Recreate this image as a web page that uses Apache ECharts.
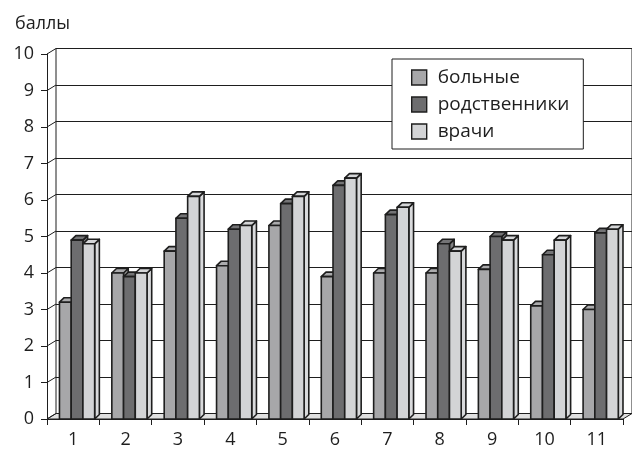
<!DOCTYPE html>
<html>
<head>
<meta charset="utf-8">
<script src="https://cdn.jsdelivr.net/npm/echarts@6/dist/echarts.min.js"></script>
<style>
  html, body { margin: 0; padding: 0; background: #fff; }
  #chart { width: 632px; height: 450px; }
</style>
</head>
<body>
<div id="chart"></div>
<script>
// Scores by question number
const categories = ['1', '2', '3', '4', '5', '6', '7', '8', '9', '10', '11'];
const patients   = [3.2, 4.0, 4.6, 4.2, 5.3, 3.9, 4.0, 4.0, 4.1, 3.1, 3.0];
const relatives  = [4.9, 3.9, 5.5, 5.2, 5.9, 6.4, 5.6, 4.8, 5.0, 4.5, 5.1];
const doctors    = [4.8, 4.0, 6.1, 5.3, 6.1, 6.6, 5.8, 4.6, 4.9, 4.9, 5.2];
const yTicks     = [0, 1, 2, 3, 4, 5, 6, 7, 8, 9, 10];

const seriesNames  = ['больные', 'родственники', 'врачи'];
const seriesColors = ['#a7a7a9', '#6d6d6f', '#d3d4d6'];
const FONT = '"Open Sans", "DejaVu Sans", sans-serif';
const INK = '#1e1e1e';

// depth of the wall/floor and of each bar, in pixels
const WALL_DX = 9, WALL_DY = -5.5;
const BAR_DX = 4.7, BAR_DY = -4.5;

// floor slab and the left wall's diagonal ties
function renderFrame(params, api) {
  const cs = params.coordSys;
  const x0 = cs.x, x1 = cs.x + cs.width, yb = cs.y + cs.height;
  const children = [{
    type: 'polygon',
    shape: { points: [[x0, yb], [x1, yb], [x1 + WALL_DX, yb + WALL_DY], [x0 + WALL_DX, yb + WALL_DY]] },
    style: { fill: '#e0e0e0', stroke: INK, lineWidth: 1 }
  }];
  yTicks.forEach(function (v) {
    const y = api.coord([0, v])[1];
    children.push({
      type: 'line',
      shape: { x1: x0, y1: y, x2: x0 + WALL_DX, y2: y + WALL_DY },
      style: { stroke: INK, lineWidth: 1 }
    });
  });
  return { type: 'group', children: children };
}

// one 3D column: front face, top face, right side face
function barRenderer(slot) {
  return function (params, api) {
    const idx = api.value(0), val = api.value(1);
    const base = api.coord([idx, 0]);
    const top = api.coord([idx, val]);
    const band = api.size([1, 0])[0];
    const bw = band * 0.224;
    const xl = base[0] - band * 0.262 + slot * bw;
    const xr = xl + bw;
    const yb = base[1], yt = top[1];
    const color = seriesColors[slot];
    const st = { fill: color, stroke: INK, lineWidth: 1.6, lineJoin: 'round' };
    return {
      type: 'group',
      children: [
        { type: 'polygon', shape: { points: [[xr, yb], [xr + BAR_DX, yb + BAR_DY], [xr + BAR_DX, yt + BAR_DY], [xr, yt]] },
          style: Object.assign({}, st, { fill: echarts.color.lift(color, 0.15) }) },
        { type: 'polygon', shape: { points: [[xl, yt], [xr, yt], [xr + BAR_DX, yt + BAR_DY], [xl + BAR_DX, yt + BAR_DY]] },
          style: Object.assign({}, st, { fill: echarts.color.lift(color, 0.05) }) },
        { type: 'rect', shape: { x: xl, y: yt, width: bw, height: yb - yt }, style: st }
      ]
    };
  };
}

const dataSets = [patients, relatives, doctors];

const chart = echarts.init(document.getElementById('chart'), null, { renderer: 'canvas' });
chart.setOption({
  animation: false,
  backgroundColor: '#fff',
  title: {
    text: 'баллы', left: 10, top: 10,
    textStyle: { fontFamily: FONT, fontSize: 18, fontWeight: 'normal', color: INK }
  },
  legend: {
    orient: 'vertical', left: 392, top: 59,
    padding: [9, 14, 8, 19], itemGap: 8,
    itemWidth: 15, itemHeight: 15,
    backgroundColor: '#fff', borderColor: INK, borderWidth: 1,
    textStyle: { fontFamily: FONT, fontSize: 19, color: INK, padding: [0, 0, 0, 6] },
    data: seriesNames.map(function (n, i) {
      return { name: n, icon: 'rect', itemStyle: { color: seriesColors[i], borderColor: INK, borderWidth: 1.4 } };
    })
  },
  grid: [
    { left: 47, top: 54, width: 576, height: 365 },
    { left: 47 + WALL_DX, top: 54 + WALL_DY, width: 576, height: 365,
      show: true, borderColor: INK, borderWidth: 1, backgroundColor: 'transparent' }
  ],
  xAxis: [
    { type: 'category', gridIndex: 0, data: categories, boundaryGap: true,
      axisLine: { lineStyle: { color: INK, width: 1 } },
      axisTick: { show: true, length: 6, alignWithLabel: false, lineStyle: { color: INK } },
      axisLabel: { fontFamily: FONT, fontSize: 18, color: INK, margin: 12 } },
    { type: 'category', gridIndex: 1, data: categories, show: false }
  ],
  yAxis: [
    { type: 'value', gridIndex: 0, min: 0, max: 10, interval: 1,
      axisLine: { show: true, lineStyle: { color: INK, width: 1 } },
      axisTick: { show: true, length: 6, lineStyle: { color: INK } },
      axisLabel: { fontFamily: FONT, fontSize: 18, color: INK, margin: 13 },
      splitLine: { show: false } },
    { type: 'value', gridIndex: 1, min: 0, max: 10, interval: 1,
      axisLine: { show: false }, axisTick: { show: false }, axisLabel: { show: false },
      splitLine: { show: true, lineStyle: { color: INK, width: 1 } } }
  ],
  series: [
    { type: 'custom', name: 'frame', xAxisIndex: 0, yAxisIndex: 0, z: 1, silent: true,
      data: [[0, 0]], renderItem: renderFrame }
  ].concat(dataSets.map(function (vals, s) {
    return {
      type: 'custom', name: seriesNames[s], xAxisIndex: 0, yAxisIndex: 0, z: 2,
      itemStyle: { color: seriesColors[s] },
      encode: { x: 0, y: 1 },
      data: vals.map(function (v, i) { return [i, v]; }),
      renderItem: barRenderer(s)
    };
  }))
});
</script>
</body>
</html>
